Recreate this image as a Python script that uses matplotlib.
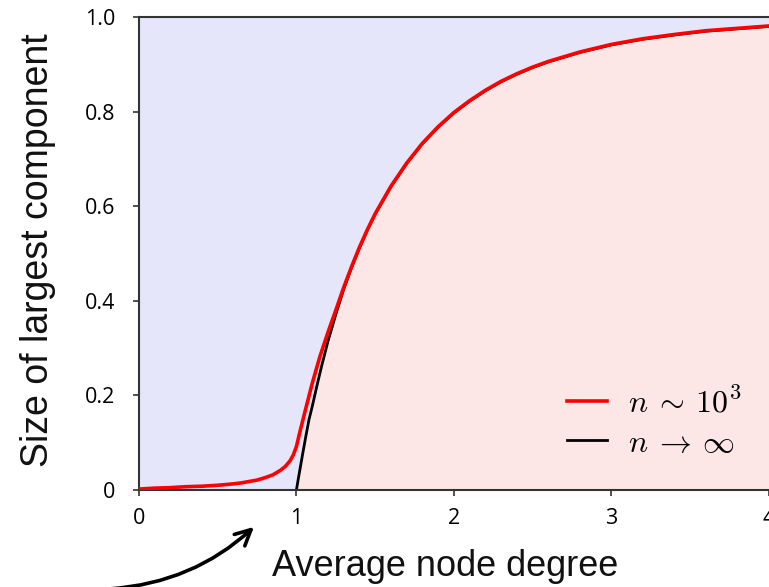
import matplotlib
matplotlib.use("Agg")
import matplotlib.pyplot as plt

plt.rcParams['mathtext.fontset'] = 'cm'

# values
deg_inf = [1.0, 1.01, 1.02, 1.04, 1.06, 1.08, 1.1, 1.13, 1.16, 1.2, 1.25, 1.3,
           1.35, 1.4, 1.45, 1.5, 1.6, 1.7, 1.8, 1.9, 2.0, 2.1, 2.2, 2.3, 2.4,
           2.5, 2.6, 2.8, 3.0, 3.2, 3.4, 3.6, 3.8, 4.0]
size_inf = [0.0, 0.020, 0.039, 0.077, 0.114, 0.149, 0.176, 0.22, 0.262, 0.314,
            0.371, 0.424, 0.470, 0.511, 0.549, 0.583, 0.641, 0.690, 0.732, 0.767,
            0.797, 0.822, 0.844, 0.863, 0.879, 0.893, 0.905, 0.925, 0.941, 0.953,
            0.962, 0.970, 0.975, 0.980]

deg_fin = [0.0, 0.1, 0.2, 0.3, 0.4, 0.5, 0.6, 0.65, 0.7, 0.75, 0.8, 0.85, 0.9,
           0.93, 0.96, 0.98, 1.0, 1.02, 1.05, 1.1, 1.15, 1.2, 1.25, 1.3, 1.35,
           1.4, 1.45, 1.5, 1.6, 1.7, 1.8, 1.9, 2.0, 2.1, 2.2, 2.3, 2.4, 2.5, 2.6,
           2.8, 3.0, 3.2, 3.4, 3.6, 3.8, 4.0]
size_fin = [0.002, 0.004, 0.005, 0.007, 0.008, 0.010, 0.013, 0.015, 0.018,
            0.021, 0.026, 0.032, 0.042, 0.050, 0.062, 0.074, 0.092, 0.120, 0.160,
            0.225, 0.283, 0.333, 0.380, 0.428, 0.472, 0.513, 0.550, 0.584, 0.642,
            0.691, 0.733, 0.768, 0.798, 0.823, 0.845, 0.864, 0.880, 0.894, 0.906,
            0.926, 0.942, 0.954, 0.963, 0.971, 0.976, 0.981]

xticks = [0, 1, 2, 3, 4]
yticks = [0, 0.2, 0.4, 0.6, 0.8, 1.0]
ytick_labels = ['0', '0.2', '0.4', '0.6', '0.8', '1.0']

W, H = 769, 587
fig = plt.figure(figsize=(W / 100, H / 100), dpi=100)
ax = fig.add_axes([139 / W, (H - 490) / H, (775 - 139) / W, 473 / H])
ax.set_facecolor('#e6e6fb')

ax.fill_between([0.0] + deg_inf, [0.0] + size_inf, 0, color='#fde6e6', lw=0)
ax.plot(deg_fin, size_fin, color='red', lw=2.6, label=r'$n \:\sim\: 10^3$',
        zorder=3, solid_joinstyle='round')
ax.plot(deg_inf, size_inf, color='black', lw=2.0, label=r'$n \:\to\: \infty$',
        zorder=2, solid_joinstyle='round')

ax.set_xlim(0, 4.04)
ax.set_ylim(0, 1.0)
ax.set_xticks(xticks)
ax.set_xticklabels([str(t) for t in xticks])
ax.set_yticks(yticks)
ax.set_yticklabels(ytick_labels)
for lab in ax.get_xticklabels() + ax.get_yticklabels():
    lab.set_fontfamily('Open Sans')
    lab.set_fontsize(15.5)
ax.tick_params(axis='both', direction='out', length=4, width=1.2, color='#333333')
ax.tick_params(axis='y', pad=13)
ax.tick_params(axis='x', pad=9)
for s in ['left', 'bottom', 'top']:
    ax.spines[s].set_color('#333333')
    ax.spines[s].set_linewidth(1.5)
ax.spines['right'].set_visible(False)

fig.text(38 / W, 1 - 250 / H, 'Size of largest component', rotation=90,
         ha='center', va='center', fontsize=27, family='Liberation Sans', color='#111111')
fig.text(445 / W, 1 - 567 / H, 'Average node degree',
         ha='center', va='center', fontsize=26, family='Liberation Sans', color='#111111')

ax.legend(loc='upper left', bbox_to_anchor=(567 / W, 1 - 388 / H),
          bbox_transform=fig.transFigure, frameon=False, fontsize=23,
          handlelength=1.25, handletextpad=0.65, labelspacing=0.25,
          borderpad=0, borderaxespad=0)

ax.annotate('', xy=(256 / W, 1 - 525 / H), xytext=(108 / W, 1 - 589 / H),
            xycoords='figure fraction', textcoords='figure fraction',
            arrowprops=dict(arrowstyle='->', color='black', lw=2.6,
                            mutation_scale=28,
                            connectionstyle='arc3,rad=0.18'),
            annotation_clip=False)

fig.savefig('out.png', dpi=100)
